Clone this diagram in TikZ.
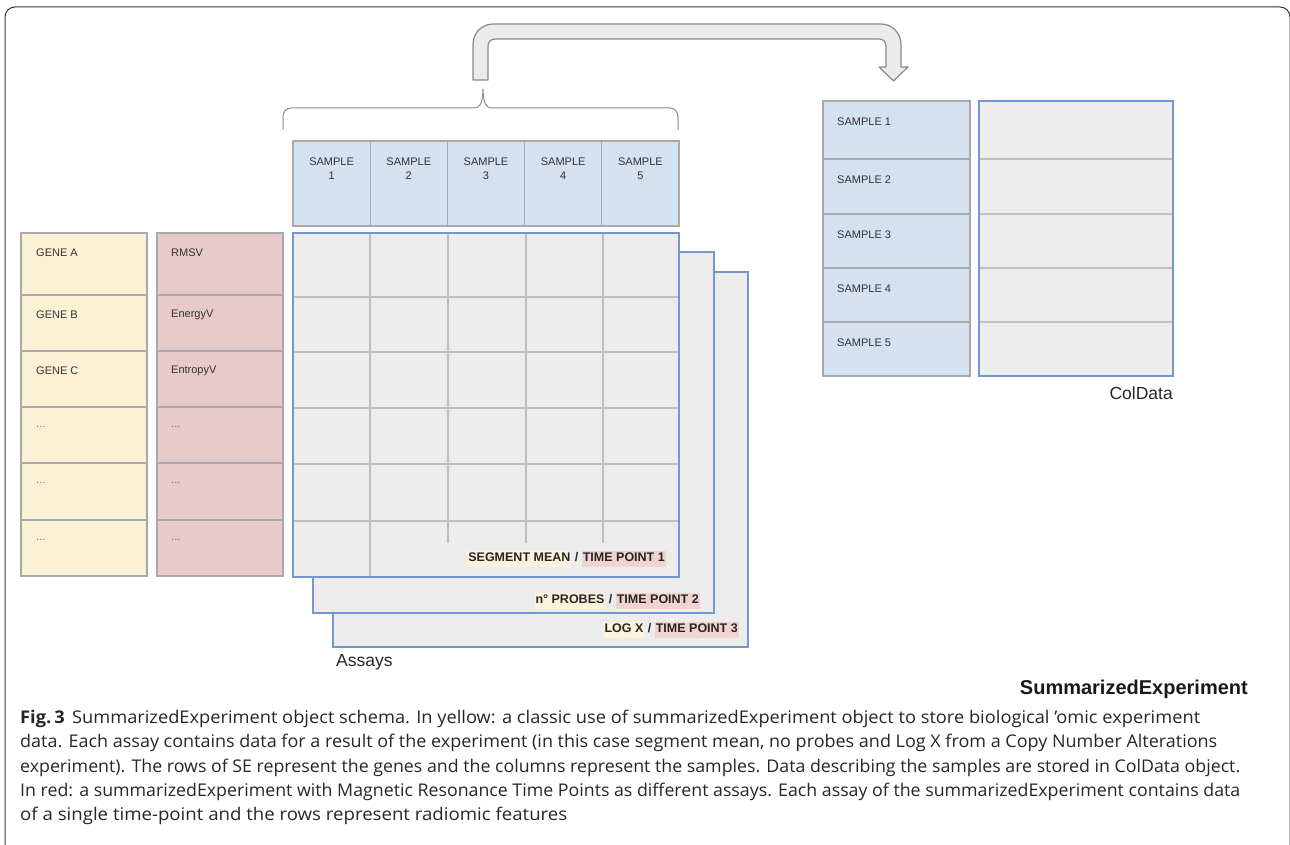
\documentclass[tikz,border=0pt]{standalone}
\usepackage{fontspec}
\usepackage{graphicx}
\setmainfont{Liberation Sans}
\newfontfamily\capfont{Open Sans}
\definecolor{yelcell}{HTML}{FBF1D5}
\definecolor{redcell}{HTML}{E8CACA}
\definecolor{bluecell}{HTML}{D4E1F1}
\definecolor{cellborder}{HTML}{A9A9A9}
\definecolor{gridfill}{HTML}{ECECEC}
\definecolor{gridline}{HTML}{BEBEBE}
\definecolor{assayblue}{HTML}{7497D0}
\definecolor{txt}{HTML}{333333}
\definecolor{hlyel}{HTML}{FBF3DA}
\definecolor{hlred}{HTML}{F3D2D2}
\definecolor{arrowfill}{HTML}{EBEBEB}
\definecolor{arrowdraw}{HTML}{8A8A8A}
\newcommand{\hlbox}[2]{{\setlength{\fboxsep}{1pt}\colorbox{#1}{\strut #2}}}
\newcommand{\tridots}{{\color{black!55}...}}
\newcommand{\capfit}[2]{\resizebox{#1pt}{\height}{#2}}
\begin{document}
\begin{tikzpicture}[x=1pt,y=-1pt,
  cell/.style={draw=cellborder, line width=1.2pt},
  assay/.style={draw=assayblue, fill=gridfill, line width=1.2pt},
  gline/.style={draw=gridline, line width=1.1pt},
  celltext/.style={anchor=west, inner sep=0pt, text=txt, font=\fontsize{11}{13}\selectfont},
  headtext/.style={align=center, inner sep=0pt, text=txt, font=\fontsize{11}{14}\selectfont},
  lbl/.style={anchor=east, inner sep=0pt, text=black!85, font=\bfseries\fontsize{12.5}{14}\selectfont},
  bigtext/.style={inner sep=0pt, text=black!85, font=\fontsize{17.5}{20}\selectfont},
  capline/.style={anchor=base west, inner sep=0pt, text=black!85, font=\capfont\fontsize{17.5}{20}\selectfont}]
\useasboundingbox (0,0) rectangle (1290,845);
% outer frame
\draw[line width=1pt, black!80] (5,845) -- (5,17) .. controls (5,11.5) and (9.5,7) .. (15,7) -- (1280,7) .. controls (1285.5,7) and (1290,11.5) .. (1290,17) -- (1290,845);
% bent hollow arrow
\draw[fill=arrowfill, draw=arrowdraw, line width=1.2pt, line join=round]
  (473,80) -- (473,44) .. controls (473,33) and (482,24) .. (493,24)
  -- (881,24) .. controls (892,24) and (901,33) .. (901,44)
  -- (901,67) -- (908,67) -- (893.5,81) -- (879,67) -- (886,67)
  -- (886,46) .. controls (886,42) and (883,39) .. (879,39)
  -- (495,39) .. controls (491,39) and (488,42) .. (488,46)
  -- (488,80) -- cycle;
% brace
\draw[draw=black!45, line width=1pt]
  (283,130) -- (283,117) .. controls (283,112) and (286,108) .. (291,108)
  -- (474,108) .. controls (480,108) and (482.5,104) .. (483,89)
  .. controls (483.5,104) and (486,108) .. (492,108)
  -- (670,108) .. controls (675,108) and (678,112) .. (678,117) -- (678,130);
% header samples
\foreach \i in {1,2,3,4,5}{
  \pgfmathsetmacro{\xa}{293+(\i-1)*77.2}
  \pgfmathsetmacro{\xb}{293+\i*77.2}
  \path[cell, fill=bluecell] (\xa,141) rectangle (\xb,226);
  \node[headtext] (hs\i) at ({(\xa+\xb)/2},169) {SAMPLE\\\i};
}
% gene column
\foreach \i/\ya/\yb/\t in {1/233/295/GENE A,2/295/351/GENE B,3/351/407/GENE C,4/407/463/\tridots,5/463/520/\tridots,6/520/576/\tridots}{
  \path[cell, fill=yelcell] (21,\ya) rectangle (147,\yb);
  \node[celltext] (gene\i) at (36,{\ya+20}) {\t};
}
% radiomic column
\foreach \i/\ya/\yb/\t in {1/233/295/RMSV,2/295/351/EnergyV,3/351/407/EntropyV,4/407/463/\tridots,5/463/520/\tridots,6/520/576/\tridots}{
  \path[cell, fill=redcell] (157,\ya) rectangle (283,\yb);
  \node[celltext] (feat\i) at (171,{\ya+20}) {\t};
}
% assay layers
\path[assay] (333,272) rectangle (748,647);
\path[assay] (313,252) rectangle (714,613);
\path[assay] (293,233) rectangle (679,577);
% grid lines of front assay
\foreach \y in {297,352,408,464,521}{
  \draw[gline] (294,\y) -- (678,\y);
}
\draw[gline] (370,234) -- (370,576);
\foreach \x in {448,526,603}{
  \draw[gline] (\x,234) -- (\x,543);
}
\draw[assayblue, line width=1.2pt] (293,233) rectangle (679,577);
% assay labels
\node[lbl] (lab1) at (666,559) {\hlbox{hlyel}{SEGMENT MEAN} / \hlbox{hlred}{TIME POINT 1}};
\node[lbl] (lab2) at (700,601) {\hlbox{hlyel}{n° PROBES} / \hlbox{hlred}{TIME POINT 2}};
\node[lbl] (lab3) at (739,630) {\hlbox{hlyel}{LOG X} / \hlbox{hlred}{TIME POINT 3}};
\node[bigtext, anchor=west] (assays) at (336,662) {Assays};
% ColData
\foreach \i/\ya/\yb in {1/101/159,2/159/214,3/214/268,4/268/322,5/322/376}{
  \path[cell, fill=bluecell] (823,\ya) rectangle (970,\yb);
  \path[draw=gridline, fill=gridfill, line width=1.1pt] (979,\ya) rectangle (1173,\yb);
  \node[celltext] (cs\i) at (837,{\ya+21}) {SAMPLE \i};
}
\draw[assayblue, line width=1.2pt] (979,101) rectangle (1173,376);
\node[bigtext, anchor=east] (coldata) at (1173,393) {ColData};
% title
\node[inner sep=0pt, anchor=east, text=black!90, font=\bfseries\fontsize{20}{24}\selectfont] (se) at (1248,689) {SummarizedExperiment};
% caption
\node[capline] (c1) at (20,723) {\capfit{1180}{\textbf{Fig.\,3}\hspace{7pt}SummarizedExperiment object schema. In yellow: a classic use of summarizedExperiment object to store biological ’omic experiment}};
\node[capline] (c2) at (20,747) {\capfit{1197}{data. Each assay contains data for a result of the experiment (in this case segment mean, no probes and Log X from a Copy Number Alterations}};
\node[capline] (c3) at (20,772) {\capfit{1220}{experiment). The rows of SE represent the genes and the columns represent the samples. Data describing the samples are stored in ColData object.}};
\node[capline] (c4) at (20,796) {\capfit{1220}{In red: a summarizedExperiment with Magnetic Resonance Time Points as different assays. Each assay of the summarizedExperiment contains data}};
\node[capline] (c5) at (20,820) {\capfit{547}{of a single time-point and the rows represent radiomic features}};
\end{tikzpicture}
\end{document}
